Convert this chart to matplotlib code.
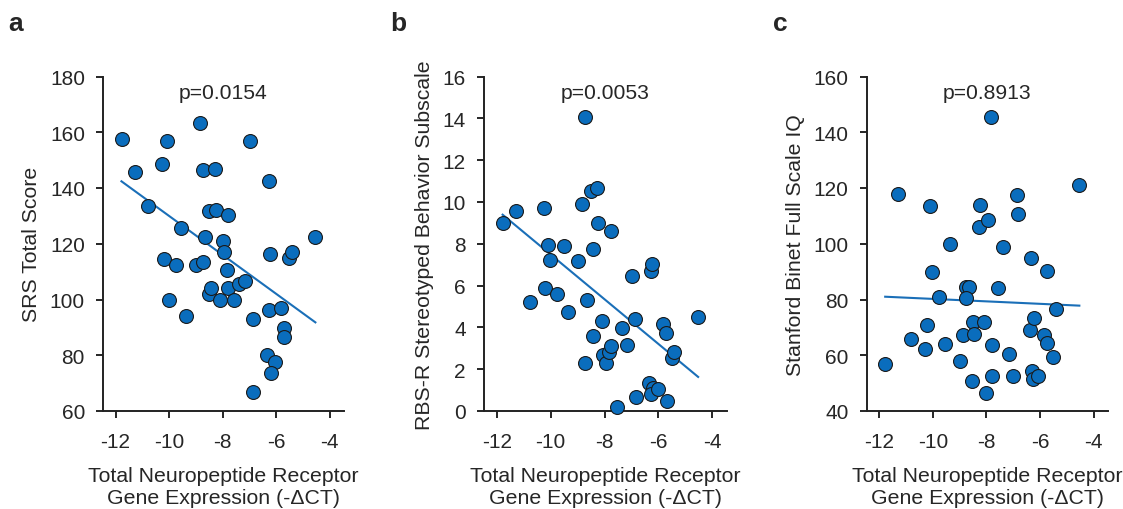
import matplotlib
matplotlib.use("Agg")
import matplotlib.pyplot as plt
import numpy as np

plt.rcParams['font.family'] = ['Liberation Sans', 'DejaVu Sans']

# ---------------- data ----------------
x_a = [-11.75, -11.28, -10.77, -10.08, -10.26, -10.20, -9.74, -10.01, -9.36, -9.54,
       -8.83, -8.72, -8.27, -8.65, -8.99, -8.72, -8.49, -8.23, -7.78, -8.00,
       -7.96, -7.85, -8.52, -8.43, -8.08, -7.78, -7.57, -7.37, -7.16, -6.99,
       -6.85, -6.28, -6.24, -5.51, -5.41, -4.54, -6.25, -5.82, -5.72, -5.71,
       -6.34, -6.04, -6.19, -6.86]
y_a = [157.6, 145.8, 133.4, 156.8, 148.6, 114.6, 112.4, 99.7, 94.1, 125.5,
       163.3, 146.6, 146.9, 122.3, 112.3, 113.4, 131.8, 132.1, 130.3, 121.0,
       117.0, 110.5, 102.0, 104.0, 100.0, 104.3, 99.8, 105.4, 106.8, 156.8,
       93.0, 142.4, 116.5, 115.0, 117.0, 122.4, 96.4, 97.0, 89.6, 86.6,
       80.0, 77.4, 73.6, 66.8]

x_b = [-11.76, -11.28, -10.78, -10.26, -10.08, -10.01, -9.51, -10.20, -9.76, -9.36,
       -8.73, -8.82, -8.52, -8.28, -8.23, -7.76, -8.44, -8.99, -8.65, -8.44,
       -8.08, -8.73, -8.04, -7.96, -7.85, -7.76, -7.55, -7.35, -7.17, -7.00,
       -6.88, -6.84, -6.29, -6.24, -6.35, -6.22, -6.27, -6.03, -5.83, -5.71,
       -5.49, -5.41, -5.67, -4.55]
y_b = [8.99, 9.55, 5.20, 9.70, 7.92, 7.23, 7.87, 5.89, 5.62, 4.75,
       14.05, 9.89, 10.54, 10.66, 8.99, 8.61, 7.73, 7.17, 5.31, 3.57,
       4.29, 2.30, 2.70, 2.30, 2.83, 3.10, 0.19, 3.95, 3.18, 6.45,
       4.42, 0.67, 6.70, 7.04, 1.36, 1.12, 0.83, 1.07, 4.18, 3.74,
       2.53, 2.83, 0.48, 4.50]

x_c = [-11.78, -11.31, -10.80, -10.28, -10.23, -10.12, -10.03, -9.77, -9.56, -9.37,
       -9.00, -8.87, -8.76, -8.65, -8.75, -8.52, -8.49, -8.47, -8.29, -8.24,
       -8.09, -8.02, -7.93, -7.84, -7.79, -7.80, -7.56, -7.38, -7.17, -7.02,
       -6.87, -6.83, -6.37, -6.21, -6.32, -6.29, -6.27, -6.06, -5.86, -5.72,
       -5.72, -5.50, -5.42, -4.56]
y_c = [56.7, 117.8, 65.7, 62.4, 70.8, 113.7, 89.8, 80.8, 63.9, 99.8,
       57.9, 67.1, 84.5, 84.5, 80.7, 50.7, 72.0, 67.6, 106.0, 114.0,
       72.0, 46.4, 108.6, 145.4, 63.6, 52.7, 84.2, 99.0, 60.4, 52.4,
       117.4, 110.6, 69.0, 73.5, 95.0, 54.5, 51.6, 52.5, 67.4, 64.4,
       90.3, 59.2, 76.6, 121.1]

# fitted regression lines (endpoints)
fit_x = [-11.78, -4.53]
fit_a = [142.4, 91.8]
fit_b = [9.39, 1.63]
fit_c = [81.0, 77.8]

panel_letters = ['a', 'b', 'c']
p_values = ['p=0.0154', 'p=0.0053', 'p=0.8913']
y_labels = ['SRS Total Score', 'RBS-R Stereotyped Behavior Subscale',
            'Stanford Binet Full Scale IQ']
x_label = 'Total Neuropeptide Receptor\nGene Expression (-\u0394CT)'
x_ticks = [-12, -10, -8, -6, -4]
y_ticks_a = [60, 80, 100, 120, 140, 160, 180]
y_ticks_b = [0, 2, 4, 6, 8, 10, 12, 14, 16]
y_ticks_c = [40, 60, 80, 100, 120, 140, 160]

# ---------------- plot ----------------
W, H = 1123, 510
fig = plt.figure(figsize=(W / 100, H / 100), dpi=100)

boxes = [(103, 344), (484, 727), (866.7, 1108)]
top, bottom = 77.5, 412
marker_col = '#0a6dbd'
line_col = '#1a6fb8'
txt_col = '#262626'

xs = [x_a, x_b, x_c]
ys = [y_a, y_b, y_c]
fits = [fit_a, fit_b, fit_c]
yticks = [y_ticks_a, y_ticks_b, y_ticks_c]
letter_x = [8, 390, 773]

for i in range(3):
    l, r = boxes[i]
    ax = fig.add_axes([l / W, (H - bottom) / H, (r - l) / W, (bottom - top) / H])
    ax.scatter(xs[i], ys[i], s=100, c=marker_col, edgecolors='#1a1a1a',
               linewidths=0.8, zorder=3, clip_on=False)
    ax.plot(fit_x, fits[i], color=line_col, lw=1.5, zorder=2)
    ax.set_xlim(-12.47, -3.46)
    ax.set_ylim(yticks[i][0], yticks[i][-1])
    ax.set_xticks(x_ticks)
    ax.set_xticklabels([str(t) for t in x_ticks])
    ax.set_yticks(yticks[i])
    for s in ['top', 'right']:
        ax.spines[s].set_visible(False)
    for s in ['left', 'bottom']:
        ax.spines[s].set_linewidth(1.4)
        ax.spines[s].set_color('#222222')
    ax.tick_params(direction='out', length=5, width=1.4, labelsize=15,
                   colors=txt_col)
    ax.tick_params(axis='x', pad=10)
    ax.tick_params(axis='y', pad=8)
    ax.set_xlabel(x_label, fontsize=15.3, labelpad=11, color=txt_col,
                  linespacing=1.2)
    ax.set_ylabel(y_labels[i], fontsize=15.3, labelpad=6, color=txt_col)
    ax.text(0.5, 0.952, p_values[i], transform=ax.transAxes, ha='center',
            va='center', fontsize=15.2, color=txt_col)
    ax.text(letter_x[i] / W, 1 - 24 / H, panel_letters[i],
            transform=fig.transFigure, fontsize=19, fontweight='bold',
            ha='left', va='center', color=txt_col)

fig.savefig('out.png', dpi=100)
